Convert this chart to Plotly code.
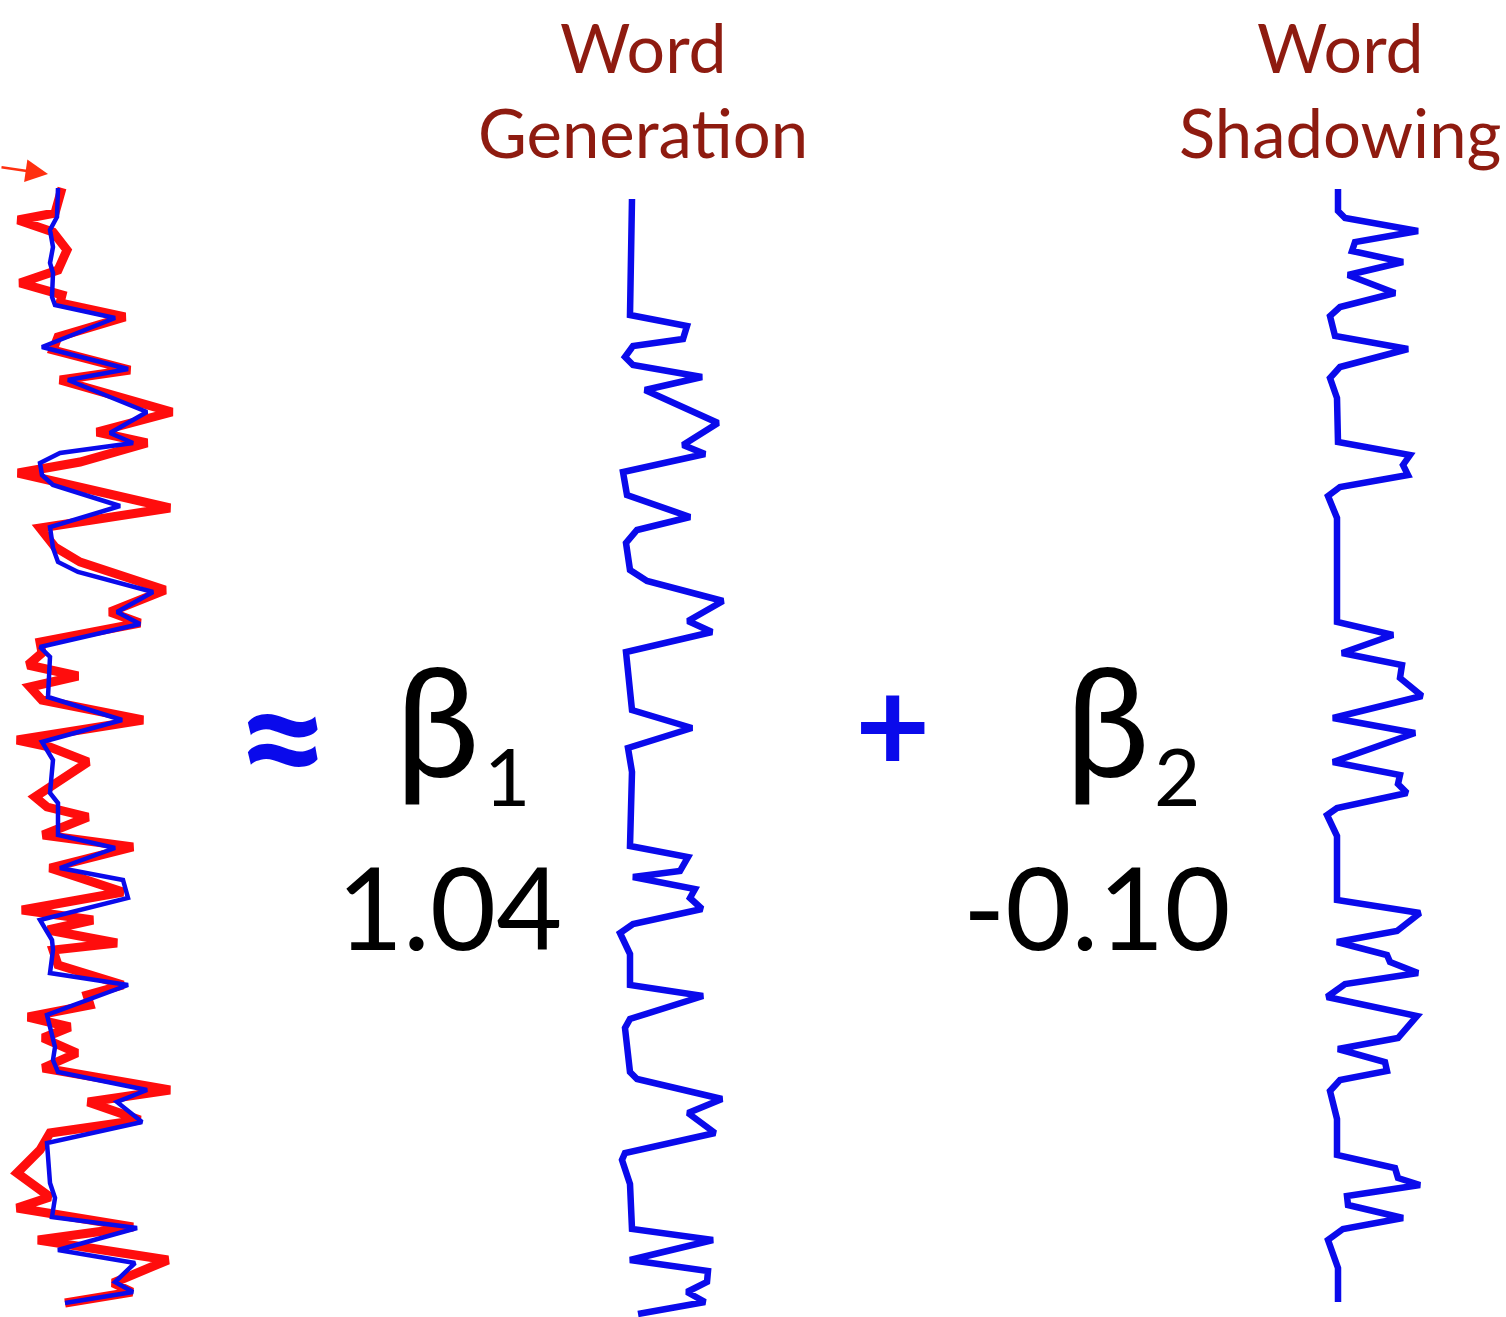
import plotly.graph_objects as go

# measured BOLD signal (red) and model fit (blue) in the left panel; time runs downward
bold_t = [188, 213, 220, 232, 250, 270, 283, 295, 303, 317, 337, 350, 370, 380, 412, 432, 443, 462, 473, 508, 528, 547,
          562, 590, 612, 623, 642, 653, 665, 676, 687, 700, 720, 740, 747, 762, 797, 807, 817, 835, 847, 868, 892, 910,
          920, 930, 943, 950, 965, 985, 995, 1005, 1017, 1027, 1038, 1053, 1068, 1090, 1102, 1120, 1133, 1150, 1173,
          1197, 1208, 1227, 1240, 1260, 1283, 1292, 1303]
bold_signal = [62, 55, 18, 53, 67, 58, 20, 62, 60, 125, 58, 53, 130, 60, 172, 97, 147, 80, 18, 170, 40, 55,
               80, 165, 110, 140, 40, 42, 28, 78, 30, 42, 143, 17, 50, 88, 35, 47, 88, 43, 133, 50, 123, 22,
               93, 48, 117, 53, 58, 123, 87, 90, 28, 70, 43, 77, 43, 170, 88, 140, 50, 40, 17,
               50, 17, 133, 38, 168, 113, 132, 65]

fit_t = [188, 217, 230, 247, 263, 273, 297, 305, 318, 347, 369, 380, 412, 433, 443, 453, 463, 475, 485, 506, 527, 548,
         562, 572, 592, 612, 624, 647, 657, 697, 720, 742, 760, 793, 803, 835, 848, 868, 880, 898, 920, 940, 950,
         973, 985, 1015, 1047, 1060, 1072, 1090, 1102, 1122, 1143, 1183, 1198, 1217, 1228, 1250, 1263, 1282, 1292, 1303]
fit_signal = [58, 57, 50, 53, 50, 53, 52, 55, 115, 42, 128, 68, 147, 110, 133, 60, 40, 42, 53, 120, 50, 53,
              58, 78, 153, 117, 140, 40, 50, 48, 122, 42, 53, 50, 58, 58, 115, 60, 123, 128, 40, 52, 53,
              50, 128, 47, 55, 53, 58, 147, 117, 142, 47, 50, 55, 52, 137, 58, 135, 115, 133, 65]

# word generation regressor
wg_t = [199, 315, 326, 339, 346, 357, 365, 377, 390, 423, 445, 454, 472, 495, 517, 530, 543, 570, 581, 601, 621, 632,
        652, 692, 710, 728, 748, 772, 846, 857, 871, 877, 889, 898, 909, 924, 933, 954, 985, 996, 1019, 1028, 1072,
        1079, 1099, 1113, 1133, 1153, 1160, 1184, 1229, 1240, 1260, 1271, 1282, 1292, 1302, 1314]
wg_signal = [32, 30, 87, 83, 33, 25, 33, 102, 45, 118, 83, 105, 23, 27, 90, 37, 26, 30, 47, 123, 88, 112,
             26, 30, 32, 92, 28, 32, 30, 88, 80, 33, 95, 90, 102, 33, 20, 30, 30, 103, 30, 25, 30,
             37, 122, 88, 115, 25, 22, 30, 32, 113, 30, 108, 107, 87, 105, 38]

# word shadowing regressor
ws_t = [189, 211, 218, 231, 242, 251, 262, 275, 293, 307, 316, 336, 349, 367, 378, 398, 442, 455, 465, 475, 487, 496,
        518, 622, 635, 653, 665, 678, 696, 718, 733, 762, 775, 784, 793, 808, 815, 836, 900, 913, 931, 942, 955, 962,
        973, 984, 997, 1016, 1038, 1049, 1062, 1071, 1080, 1091, 1119, 1155, 1168, 1178, 1185, 1196, 1205, 1218,
        1229, 1240, 1268, 1302]
ws_signal = [38, 38, 45, 118, 55, 52, 103, 48, 95, 40, 30, 35, 108, 40, 30, 37, 38, 110, 103, 108, 40, 28,
             37, 37, 93, 42, 102, 100, 122, 33, 115, 33, 100, 98, 107, 37, 27, 37, 37, 120, 97, 37, 87, 90,
             118, 45, 27, 117, 98, 38, 85, 87, 40, 30, 37, 37, 95, 98, 120, 47, 48, 103,
             43, 28, 38, 38]

regressors = ["Word<br>Generation", "Word<br>Shadowing"]
betas = ["1", "2"]
beta_values = ["1.04", "-0.10"]

W, H = 1506, 1317
RED = "#ff0d0d"
BLUE = "#0a0aeb"
TITLE = "#8e1b10"
FONT = "Lato"

fig = go.Figure()
fig.add_trace(go.Scatter(x=bold_signal, y=bold_t, mode="lines", line=dict(color=RED, width=9), xaxis="x", yaxis="y"))
fig.add_trace(go.Scatter(x=fit_signal, y=fit_t, mode="lines", line=dict(color=BLUE, width=4.5), xaxis="x", yaxis="y"))
fig.add_trace(go.Scatter(x=wg_signal, y=wg_t, mode="lines", line=dict(color=BLUE, width=6.5), xaxis="x2", yaxis="y"))
fig.add_trace(go.Scatter(x=ws_signal, y=ws_t, mode="lines", line=dict(color=BLUE, width=6.5), xaxis="x3", yaxis="y"))

hidden = dict(visible=False, showgrid=False, zeroline=False, fixedrange=True)
fig.update_layout(
    width=W, height=H,
    margin=dict(l=0, r=0, t=0, b=0),
    paper_bgcolor="white", plot_bgcolor="white",
    showlegend=False,
    xaxis=dict(domain=[0, 200 / W], range=[0, 200], **hidden),
    xaxis2=dict(domain=[600 / W, 750 / W], range=[0, 150], anchor="y", **hidden),
    xaxis3=dict(domain=[1300 / W, 1450 / W], range=[0, 150], anchor="y", **hidden),
    yaxis=dict(domain=[0, 1], range=[H, 0], **hidden),
)


def px(x, y):
    return x / W, 1 - y / H


def label(text, x, y, size, color="black"):
    xp, yp = px(x, y)
    fig.add_annotation(text=text, x=xp, y=yp, xref="paper", yref="paper", showarrow=False,
                       xanchor="center", yanchor="middle", font=dict(family=FONT, size=size, color=color))


# regressor titles
for txt, cx in zip(regressors, [643, 1340]):
    w1, w2 = txt.split("<br>")
    label(w1, cx, 46, 68, TITLE)
    label(w2, cx, 132, 67, TITLE)

# equation symbols
label("<b>≈</b>", 283, 732, 165, BLUE)
label("<b>+</b>", 892, 722, 130, BLUE)
for b, v, bx, vx in zip(betas, beta_values, [437, 1107], [449, 1097]):
    label("β", bx, 718, 152)
    label(b, bx + 70, 775, 80)
    label(v, vx, 905, 114)

# small red arrow pointing at the measured signal
xa, ya = px(48, 174)
fig.add_annotation(x=xa, y=ya, xref="paper", yref="paper", ax=-50, ay=-7, showarrow=True,
                   arrowhead=2, arrowsize=1.8, arrowwidth=2.5, arrowcolor="#ff3010", text="")

fig.write_html("out.html", config={"displayModeBar": False},
               post_script="document.body.style.margin='0';")
